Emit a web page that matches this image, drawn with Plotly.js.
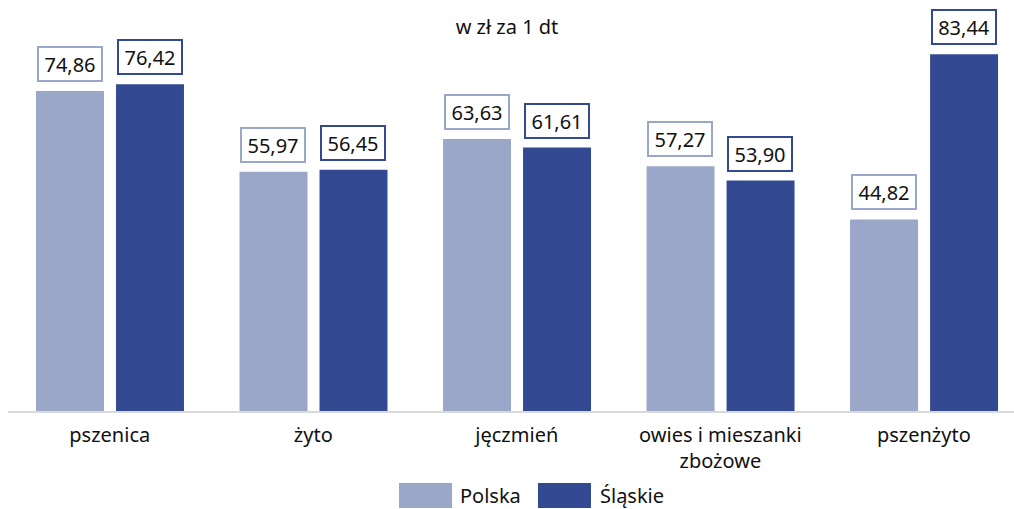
<!DOCTYPE html>
<html>
<head>
<meta charset="utf-8">
<script src="https://cdn.plot.ly/plotly-3.0.1.min.js"></script>
<style>html,body{margin:0;padding:0;background:#fff;}#chart{width:1014px;height:509px;}</style>
</head>
<body>
<div id="chart"></div>
<script>
const categories = ['pszenica', 'żyto', 'jęczmień', 'owies i mieszanki<br>zbożowe', 'pszenżyto'];
const seriesNames = ['Polska', 'Śląskie'];
const polska = [74.86, 55.97, 63.63, 57.27, 44.82];
const slaskie = [76.42, 56.45, 61.61, 53.90, 83.44];
const chartTitle = 'w zł za 1 dt';

const colLight = '#9aa7c9';
const colDark = '#334a92';
const FONT = '"Noto Sans", "Open Sans", sans-serif';
const xs = categories.map((c, i) => i);
const fmt = v => v.toFixed(2).replace('.', ',');

const traces = [
  {type: 'bar', x: xs, y: polska, name: seriesNames[0], marker: {color: colLight}, width: 0.334, offset: -0.3624, hoverinfo: 'skip'},
  {type: 'bar', x: xs, y: slaskie, name: seriesNames[1], marker: {color: colDark}, width: 0.334, offset: 0.0307, hoverinfo: 'skip'}
];

const annotations = [];
[[polska, colLight, -40], [slaskie, colDark, 40]].forEach(([vals, col, sh]) => {
  vals.forEach((v, i) => {
    annotations.push({
      x: xs[i], y: v, xref: 'x', yref: 'y', text: fmt(v), showarrow: false,
      xanchor: 'center', yanchor: 'bottom', xshift: sh, yshift: 9,
      font: {family: FONT, size: 20, color: '#111'},
      bgcolor: '#fff', bordercolor: col, borderwidth: 2, borderpad: 3,
      width: 56, height: 26
    });
  });
});

// custom legend (decoration)
const shapes = [];
const legendItems = [[seriesNames[0], colLight, 0.3887, 0.4414, 0.4473], [seriesNames[1], colDark, 0.5268, 0.5795, 0.5865]];
legendItems.forEach(([nm, col, x0, x1, tx]) => {
  shapes.push({type: 'rect', xref: 'paper', yref: 'paper', x0: x0, x1: x1, y0: -0.2615, y1: -0.194, fillcolor: col, line: {width: 0}});
  annotations.push({xref: 'paper', yref: 'paper', x: tx, y: -0.2291, text: nm, showarrow: false, xanchor: 'left', yanchor: 'middle', font: {family: FONT, size: 20, color: '#111'}});
});

const layout = {
  width: 1014, height: 509,
  margin: {l: 8, r: 0, t: 40, b: 98},
  paper_bgcolor: '#fff', plot_bgcolor: '#fff',
  title: {text: chartTitle, x: 0.5, xanchor: 'center', y: 0.947, yanchor: 'middle', yref: 'container', font: {family: FONT, size: 20, color: '#111'}},
  showlegend: false,
  barmode: 'group',
  xaxis: {
    range: [-0.5, 4.443], tickvals: xs, ticktext: categories,
    showline: true, linecolor: '#d9d9d9', linewidth: 2,
    ticks: '', showgrid: false, zeroline: false, fixedrange: true,
    ticklabelstandoff: 5,
    tickfont: {family: FONT, size: 20, color: '#111'}
  },
  yaxis: {range: [0, 86.78], showgrid: false, zeroline: false, showticklabels: false, showline: false, fixedrange: true},
  annotations: annotations,
  shapes: shapes,
  font: {family: FONT}
};

Plotly.newPlot('chart', traces, layout, {displayModeBar: false, staticPlot: true});
</script>
</body>
</html>
